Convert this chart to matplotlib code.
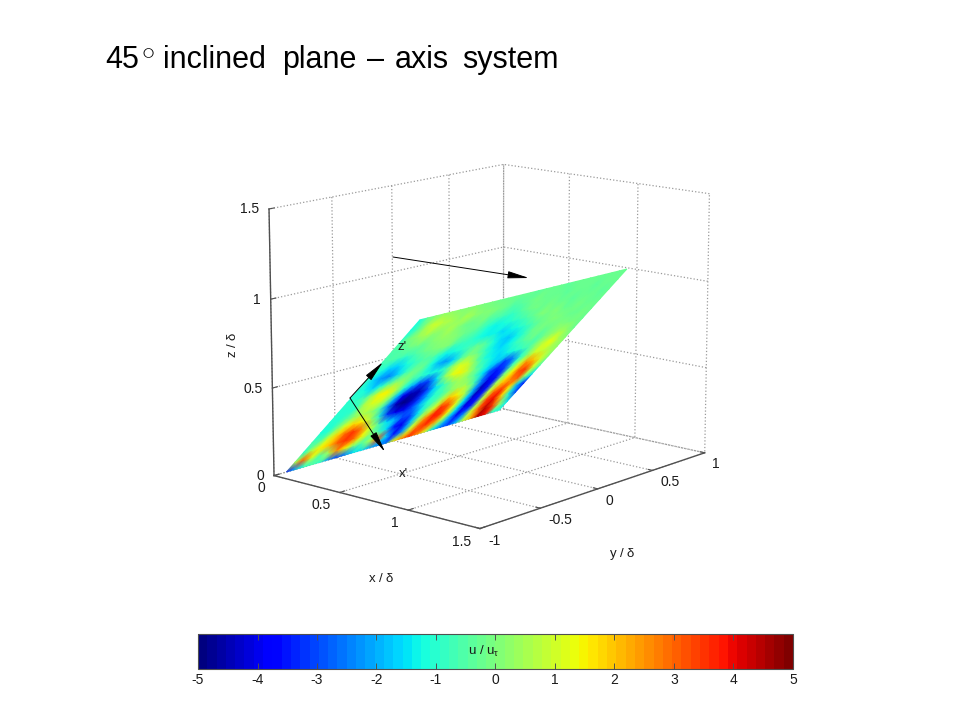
#45 degree inclined plane, u velocity field with axis system

import numpy as np
from matplotlib import pyplot as plt
from matplotlib.colors import Normalize
from matplotlib.cm import ScalarMappable
from mpl_toolkits.mplot3d import proj3d

plt.rcParams['font.family'] = ['Liberation Sans', 'DejaVu Sans']
plt.rcParams['mathtext.fontset'] = 'custom'
plt.rcParams['mathtext.rm'] = 'Liberation Sans'
plt.rcParams['mathtext.it'] = 'Liberation Sans'
plt.rcParams['axes.unicode_minus'] = False

x_ticks = [0, 0.5, 1, 1.5]
y_ticks = [-1, -0.5, 0, 0.5, 1]
z_ticks = [0, 0.5, 1, 1.5]
cbar_ticks = [-5, -4, -3, -2, -1, 0, 1, 2, 3, 4, 5]

# extent of the measured plane
plane_x = [0, 0.95]
plane_y_bottom = [-0.9, 0.96]
plane_y_top = [-0.84, 0.97]
plane_z = [0, 1.0]

row_00 = [-3.5, -2.0, -1.0, -0.5, -1.0, -2.5, -3.0, -2.5, -1.5, -1.5, -2.0, -2.5, -2.5, 1.5, 2.5, 3.5, 2.5, 1.0, -1.5, -2.5, -3.0, -2.0, 0.5, 2.0, 4.5, 4.0, -1.0, -1.0]
row_01 = [0.5, 3.0, 1.0, -0.5, 0.5, 2.5, 1.5, 0.0, -0.5, 0.5, 3.0, -1.5, -3.5, -2.5, 1.0, 3.0, 3.5, 2.5, 0.5, -2.0, -3.5, -2.5, 1.0, 3.0, 4.5, 3.5, 0.5, -1.5]
row_02 = [-1.0, 0.5, 1.5, 2.0, 3.0, 3.5, 3.0, 1.5, 0.2, -0.5, -1.5, -3.5, -4.0, -2.0, 0.5, 2.5, 3.8, 3.5, 1.5, -1.5, -4.0, -3.5, 0.5, 3.5, 4.0, 2.0, -1.0, -3.0]
row_03 = [-0.5, -0.5, 1.0, 2.0, 3.0, 3.5, 2.5, 1.0, -0.5, -1.5, -2.0, -3.0, -3.0, -1.5, 0.0, 1.0, 3.5, 3.0, 1.2, -1.5, -4.2, -3.5, 0.8, 3.0, 3.5, 1.5, -2.0, -3.5]
row_04 = [-1.2, -1.0, 0.0, 1.2, 1.8, 1.5, 0.5, -1.0, -3.0, -4.0, -4.0, -3.0, -2.0, -1.0, -0.5, 0.5, 2.0, 1.5, 0.5, -2.0, -4.5, -3.5, 0.5, 2.0, 2.5, 3.0, 0.0, -1.5]
row_05 = [-1.0, -1.0, -0.5, 0.0, 0.5, 0.3, -0.5, -2.5, -4.5, -5.0, -4.5, -3.2, -2.0, -1.0, -0.7, 0.0, 0.5, 0.5, -0.5, -2.5, -4.0, -3.5, 0.0, 1.5, 3.2, 3.5, 1.0, -0.5]
row_06 = [-1.0, -1.0, -1.0, 0.5, 1.0, 1.0, 0.0, -2.0, -4.0, -4.5, -4.5, -3.0, -1.5, -0.8, 0.0, 0.5, 0.3, -0.5, -1.5, -3.0, -3.5, -3.0, -0.5, 1.0, 2.5, 2.0, 1.0, 0.0]
row_07 = [-1.0, -0.8, -0.5, 0.5, 1.5, 1.5, 0.5, -1.0, -2.0, -3.0, -3.0, -1.5, 0.0, 1.2, 1.5, 0.8, -0.2, -0.8, -1.5, -2.0, -3.0, -2.5, -1.0, 0.0, 1.0, 0.8, 0.5, 0.2]
row_08 = [-1.0, -1.2, -1.6, -1.0, -0.3, 0.2, 0.0, -0.5, -0.8, -1.2, -1.2, -0.7, 0.5, 1.2, 0.8, -0.2, -1.0, -1.4, -1.6, -1.4, -1.2, -0.8, -0.5, 0.2, 0.8, 1.3, 0.5, 0.0]
row_09 = [-0.8, -1.6, -2.2, -2.5, -1.7, -0.8, -0.3, -0.3, -1.2, -2.0, -2.2, -1.6, -0.6, 0.0, -0.3, -0.8, -1.4, -1.7, -1.3, -0.9, -0.6, -0.3, -0.5, -0.1, 0.3, 0.6, 0.3, -0.2]
row_10 = [-0.8, -1.2, -1.6, -1.6, -1.2, -0.8, -0.5, -0.6, -1.0, -1.4, -1.2, -0.9, -0.5, -0.3, -0.6, -1.2, -1.7, -1.8, -1.3, -0.8, -0.3, -0.1, -0.3, -0.1, 0.0, -0.1, -0.1, -0.2]
row_11 = [-0.7, -0.6, -0.7, -0.8, -0.6, -0.3, -0.1, 0.1, 0.0, -0.5, -0.7, -0.8, -1.1, -1.3, -1.4, -1.7, -1.4, -1.1, -0.8, -0.5, -0.2, -0.1, 0.0, -0.1, -0.3, -0.2, -0.1, -0.3]
row_12 = [-0.6, -0.5, -0.3, -0.1, -0.2, 0.0, 0.2, 0.3, 0.0, -0.3, -0.4, -0.7, -1.1, -1.3, -1.2, -1.0, -0.8, -0.5, -0.2, 0.0, -0.1, 0.0, -0.2, -0.3, -0.1, -0.2, -0.3, -0.3]
row_13 = [-0.7, -0.1, 0.2, 0.5, 0.2, 0.3, 0.5, 0.1, -0.2, -0.3, -0.1, -0.5, -0.6, -0.7, -0.8, -0.5, -0.3, -0.1, -0.2, -0.1, -0.3, -0.2, -0.4, -0.3, -0.2, -0.3, -0.4, -0.3]
row_14 = [-1.1, -0.5, 0.5, 1.0, 0.7, 0.5, 0.2, 0.5, 0.3, 0.0, 0.1, -0.1, -0.2, -0.5, -0.4, -0.2, -0.1, -0.3, -0.2, -0.3, -0.4, -0.3, -0.2, -0.3, -0.4, -0.3, -0.2, -0.3]
row_15 = [-1.2, -0.3, 0.1, 0.3, 0.2, 0.0, 0.1, 0.0, -0.1, -0.1, -0.2, -0.2, -0.3, -0.2, -0.3, -0.4, -0.2, -0.3, -0.3, -0.4, -0.3, -0.2, -0.3, -0.3, -0.2, -0.3, -0.3, -0.3]

u = np.array([row_00, row_01, row_02, row_03, row_04, row_05, row_06, row_07,
              row_08, row_09, row_10, row_11, row_12, row_13, row_14, row_15])

# title words, x pixel where each one starts
title_words = ['45', 'inclined', 'plane', '–', 'axis', 'system']
title_x = [105, 163, 282, 367, 395, 462]

W, H = 960, 720
cmap = plt.get_cmap('jet', 64)
norm = Normalize(-5, 5)
axis_color = '#505050'
text_color = '#1a1a1a'

fig = plt.figure(figsize=(W / 100, H / 100), dpi=100)

ax = fig.add_axes([0.003, 0.0225, 1.0, 1.0], projection='3d')
ax.set_proj_type('persp', focal_length=0.7)
ax.view_init(elev=13, azim=-49)
ax.set_box_aspect((259, 332, 256), zoom=0.70)
ax.set_xlim(0, 1.5)
ax.set_ylim(-1, 1)
ax.set_zlim(0, 1.5)
ax.patch.set_alpha(0)

ax.set_xticks(x_ticks)
ax.set_yticks(y_ticks)
ax.set_zticks(z_ticks)
ax.set_xticklabels(['0', '0.5', '1', '1.5'], ha='right', va='center')
ax.set_yticklabels(['-1', '-0.5', '0', '0.5', '1'], ha='left', va='center')
ax.set_zticklabels(['0', '0.5', '1', '1.5'], ha='right', va='center')
ax.zaxis.set_ticks_position('lower')

for axis in (ax.xaxis, ax.yaxis, ax.zaxis):
    axis.set_pane_color((1, 1, 1, 0))
    axis.pane.set_edgecolor('#8c8c8c')
    axis.pane.set_linestyle(':')
    axis.pane.set_linewidth(0.9)
    axis.line.set_color(axis_color)
    axis.line.set_linewidth(1.0)
    axis._axinfo['grid'].update(color='#9a9a9a', linestyle=':', linewidth=0.9)
    axis._axinfo['tick'].update(inward_factor=0.0, outward_factor=0.25)
ax.tick_params(labelsize=10, colors=text_color, pad=2)
ax.tick_params(axis='z', pad=-2)
for axis in (ax.xaxis, ax.yaxis, ax.zaxis):
    for t in axis.get_major_ticks():
        t.tick1line.set_color(axis_color)

# overlay in pixel coordinates for title, labels, arrows
ov = fig.add_axes([0, 0, 1, 1])
ov.set_xlim(0, W)
ov.set_ylim(H, 0)
ov.axis('off')

# plane: vertices go through the 3d projection, gouraud shading does the rest
fig.canvas.draw()
rows, cols = u.shape
xg = np.linspace(plane_x[0], plane_x[1], rows)[:, None] * np.ones((rows, cols))
zg = np.linspace(plane_z[0], plane_z[1], rows)[:, None] * np.ones((rows, cols))
y_left = np.linspace(plane_y_bottom[0], plane_y_top[0], rows)
y_right = np.linspace(plane_y_bottom[1], plane_y_top[1], rows)
yg = np.array([np.linspace(a, b, cols) for a, b in zip(y_left, y_right)])
px, py, _ = proj3d.proj_transform(xg.ravel(), yg.ravel(), zg.ravel(), ax.get_proj())
pts = ov.transData.inverted().transform(ax.transData.transform(np.column_stack([px, py])))
ov.pcolormesh(pts[:, 0].reshape(rows, cols), pts[:, 1].reshape(rows, cols), u,
              cmap=cmap, norm=norm, shading='gouraud')

for word, wx in zip(title_words, title_x):
    ov.text(wx, 68, word, fontsize=22, color='black', va='baseline', ha='left')
ov.text(147.5, 51, r'$\circ$', fontsize=19, color='black', va='center', ha='center')
ov.text(381, 578, r'x / $\delta$', fontsize=9.5, color=text_color, ha='center', va='center')
ov.text(622, 554, r'y / $\delta$', fontsize=9.5, color=text_color, ha='center', va='center')
ov.text(232, 345, r'z / $\delta$', fontsize=9.5, color=text_color, ha='center', va='center', rotation=90)
ov.text(402, 347, "z'", fontsize=9.5, color=text_color, ha='center', va='center')
ov.text(403, 474, "x'", fontsize=9.5, color=text_color, ha='center', va='center')

for tail, head in [((350, 398), (383, 362)), ((350, 398), (385, 452)), ((393, 257), (529, 278))]:
    ov.annotate('', xy=head, xytext=tail,
                arrowprops=dict(arrowstyle='-|>,head_length=1.3,head_width=0.22', color='black',
                                lw=0.7, shrinkA=0, shrinkB=0))

# colour bar
cax = fig.add_axes([198 / W, 1 - 669 / H, 595 / W, 35 / H])
cb = fig.colorbar(ScalarMappable(norm=norm, cmap=cmap), cax=cax, orientation='horizontal')
cb.set_ticks(cbar_ticks)
cb.ax.tick_params(labelsize=10, colors=text_color, direction='in', length=4, width=0.7,
                  top=True, pad=3, color=axis_color)
cb.outline.set_edgecolor(axis_color)
cb.outline.set_linewidth(0.8)
cax.text(-0.19, 0.5, r'u / u$_{\tau}$', fontsize=9.5, color=text_color, ha='center', va='center',
         transform=cax.get_xaxis_transform())

fig.savefig('out.png', dpi=100)
